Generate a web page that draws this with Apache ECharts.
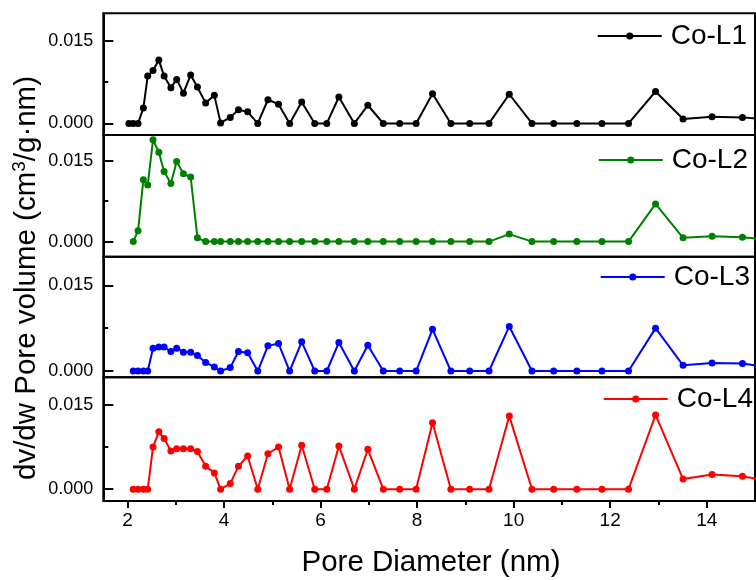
<!DOCTYPE html>
<html>
<head>
<meta charset="utf-8">
<script src="https://cdn.jsdelivr.net/npm/echarts@6/dist/echarts.min.js"></script>
<style>html,body{margin:0;padding:0;background:#fff;}#c{width:756px;height:580px;}</style>
</head>
<body>
<div id="c"></div>
<script>
// ---- data ----
const poreX = [2.03, 2.12, 2.22, 2.33, 2.42, 2.53, 2.65, 2.76, 2.90, 3.02, 3.16, 3.31, 3.45, 3.62, 3.80, 3.93,
  4.13, 4.30, 4.49, 4.70, 4.91, 5.13, 5.36, 5.61, 5.88, 6.13, 6.38, 6.70, 6.98, 7.30, 7.64, 7.98,
  8.32, 8.70, 9.09, 9.49, 9.91, 10.38, 10.83, 11.31, 11.83, 12.38, 12.94, 13.51, 14.11, 14.74, 15.40];
const poreX2 = poreX.slice(1);
const volL1 = [0, 0, 0, 0.0028, 0.0086, 0.0096, 0.0115, 0.0086, 0.0065, 0.0080, 0.0055, 0.0088, 0.0066, 0.0037, 0.0051, 0.0001,
  0.0011, 0.0025, 0.0021, 0, 0.0043, 0.0035, 0, 0.0039, 0, 0, 0.0048, 0, 0.0033, 0, 0, 0,
  0.0054, 0, 0, 0, 0.0053, 0, 0, 0, 0, 0, 0.0058, 0.0008, 0.0012, 0.0011, 0.0006];
const volL2 = [0, 0.0020, 0.0115, 0.0105, 0.0189, 0.0166, 0.0130, 0.0108, 0.0149, 0.0126, 0.0120, 0.0007, 0, 0, 0,
  0, 0, 0, 0, 0, 0, 0, 0, 0, 0, 0, 0, 0, 0, 0, 0,
  0, 0, 0, 0, 0.0014, 0, 0, 0, 0, 0, 0.0070, 0.0007, 0.0010, 0.0008, 0.0003];
const volL3 = [0, 0, 0, 0, 0.0040, 0.0042, 0.0042, 0.0034, 0.0040, 0.0033, 0.0033, 0.0027, 0.0015, 0.0007, 0,
  0.0006, 0.0034, 0.0032, 0, 0.0044, 0.0048, 0, 0.0051, 0, 0, 0.0050, 0, 0.0045, 0, 0, 0,
  0.0073, 0, 0, 0, 0.0078, 0, 0, 0, 0, 0, 0.0075, 0.0010, 0.0014, 0.0013, 0.0005];
const volL4 = [0, 0, 0, 0, 0.0075, 0.0102, 0.0090, 0.0068, 0.0072, 0.0072, 0.0072, 0.0067, 0.0041, 0.0029, 0,
  0.0010, 0.0041, 0.0059, 0, 0.0063, 0.0075, 0, 0.0078, 0, 0, 0.0077, 0, 0.0071, 0, 0, 0,
  0.0118, 0, 0, 0, 0.0130, 0, 0, 0, 0, 0, 0.0132, 0.0018, 0.0026, 0.0023, 0.0013];
const seriesNames = ['Co-L1', 'Co-L2', 'Co-L3', 'Co-L4'];
const yMajorTicks = [0, 0.015];
const yMinorTicks = [0.0075];
const xMajorTicks = [2, 4, 6, 8, 10, 12, 14];
const xMinorTicks = [3, 5, 7, 9, 11, 13];

// ---- layout / style ----
const FONT = 'Arial, "Liberation Sans", sans-serif';
const colors = ['#000000', '#008000', '#0000FF', '#FF0000'];
const panels = [
  {top: 13.3, height: 121.7, min: -0.0021, max: 0.0200, legendTop: 22, legendRight: 9},
  {top: 135.0, height: 121.7, min: -0.0028, max: 0.0198, legendTop: 146, legendRight: 8},
  {top: 256.7, height: 120.6, min: -0.0011, max: 0.0200, legendTop: 263, legendRight: 6},
  {top: 377.3, height: 123.7, min: -0.0021, max: 0.0199, legendTop: 385, legendRight: 3}
];
const xs = [poreX, poreX2, poreX2, poreX2];
const ys = [volL1, volL2, volL3, volL4];

const grids = [], xAxes = [], yAxes = [], series = [], legends = [];
panels.forEach((p, i) => {
  grids.push({left: 103.3, right: 1, top: p.top, height: p.height, show: true,
    borderColor: '#000', borderWidth: 2, backgroundColor: 'transparent'});
  const bottom = i === 3;
  xAxes.push({type: 'value', gridIndex: i, min: 1.5, max: 15, position: 'bottom',
    show: true,
    axisLine: {show: false, onZero: false},
    axisTick: {show: bottom, inside: false, length: 7, customValues: xMajorTicks, lineStyle: {color: '#000', width: 2}},
    axisLabel: {show: bottom, customValues: xMajorTicks, margin: 10, fontSize: 19, color: '#000', fontFamily: FONT},
    splitLine: {show: false}});
  yAxes.push({type: 'value', gridIndex: i, min: p.min, max: p.max, position: 'left',
    axisLine: {show: true, onZero: false, lineStyle: {color: '#000', width: 2}},
    axisTick: {show: true, inside: true, length: 10, customValues: yMajorTicks, lineStyle: {color: '#000', width: 2}},
    axisLabel: {show: true, customValues: yMajorTicks, margin: 10, fontSize: 18, color: '#000', fontFamily: FONT,
      formatter: v => v.toFixed(3)},
    splitLine: {show: false}});
  series.push({type: 'line', name: seriesNames[i], xAxisIndex: i, yAxisIndex: i,
    data: xs[i].map((x, k) => [x, ys[i][k]]),
    symbol: 'circle', symbolSize: 7, showSymbol: true, clip: true,
    lineStyle: {color: colors[i], width: 2}, itemStyle: {color: colors[i]},
    emphasis: {disabled: true}, animation: false});
  legends.push({data: [seriesNames[i]], right: p.legendRight, top: p.legendTop, padding: 0,
    itemWidth: 64, itemHeight: 9, selectedMode: false,
    textStyle: {fontSize: 28, color: '#000', fontFamily: FONT, padding: [0, 0, 0, 4]}});
});
// minor ticks
xAxes.push({type: 'value', gridIndex: 3, min: 1.5, max: 15, position: 'bottom',
  axisLine: {show: false, onZero: false},
  axisTick: {show: true, inside: false, length: 4, customValues: xMinorTicks, lineStyle: {color: '#000', width: 2}},
  axisLabel: {show: false}, splitLine: {show: false}});
panels.forEach((p, i) => {
  yAxes.push({type: 'value', gridIndex: i, min: p.min, max: p.max, position: 'left',
    axisLine: {show: false, onZero: false},
    axisTick: {show: true, inside: true, length: 5, customValues: yMinorTicks, lineStyle: {color: '#000', width: 2}},
    axisLabel: {show: false}, splitLine: {show: false}});
});

const chart = echarts.init(document.getElementById('c'), null, {renderer: 'canvas'});
chart.setOption({
  animation: false,
  backgroundColor: '#fff',
  grid: grids, xAxis: xAxes, yAxis: yAxes, series: series, legend: legends,
  graphic: [
    {type: 'text', x: 431, y: 563, style: {text: 'Pore Diameter (nm)', font: '29.5px ' + FONT, fill: '#000', align: 'center', verticalAlign: 'middle'}},
    {type: 'text', x: 27, y: 278, rotation: Math.PI / 2,
      style: {text: '{a|dv/dw Pore volume (cm}{s|3}{a|/g·nm)}', align: 'center', verticalAlign: 'middle', fill: '#000',
        rich: {a: {fontSize: 29.5, fontFamily: FONT, lineHeight: 34, fill: '#000'},
               s: {fontSize: 19, fontFamily: FONT, lineHeight: 34, verticalAlign: 'top', fill: '#000'}}}}
  ]
});
</script>
</body>
</html>
